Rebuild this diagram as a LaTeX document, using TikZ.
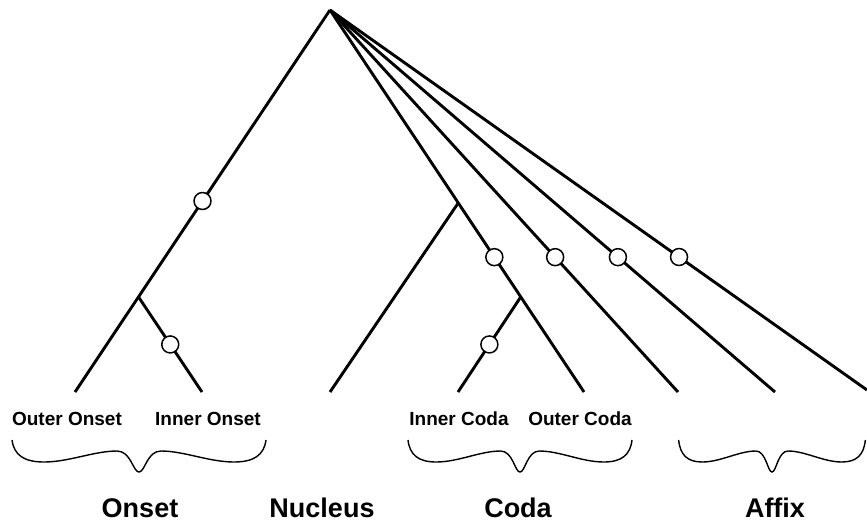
\documentclass[tikz,border=0pt]{standalone}
\usepackage{fontspec}
\setmainfont{Liberation Sans}
\usetikzlibrary{calc}
\tikzset{
  branch/.style={line width=2.9pt, line join=round},
  knot/.style={circle, draw, fill=white, line width=1.5pt, minimum size=17pt, inner sep=0pt},
  small/.style={font=\fontsize{19}{21}\selectfont\bfseries, inner sep=0pt, anchor=base},
  big/.style={font=\fontsize{27}{30}\selectfont\bfseries, inner sep=0pt, anchor=base},
  curly/.pic={
    \draw[line width=1.4pt]
      (-127,0) .. controls (-125,15) and (-115,22) .. (-95,22)
      .. controls (-70,22) and (-45,11) .. (-22,11)
      .. controls (-8,11) and (-6,32) .. (0,32)
      .. controls (6,32) and (8,11) .. (22,11)
      .. controls (45,11) and (70,22) .. (95,22)
      .. controls (115,22) and (125,15) .. (127,0);
  }
}
\begin{document}
\begin{tikzpicture}[x=1pt, y=-1pt]
\useasboundingbox (0,0) rectangle (867,523);
% tree points
\coordinate (root) at (330,10);
\coordinate (oo) at (75,392);
\coordinate (io) at (202,392);
\coordinate (nu) at (330,392);
\coordinate (ic) at (458,392);
\coordinate (oc) at (584,392);
\coordinate (a1) at (678,392);
\coordinate (a2) at (775,392);
\coordinate (a3) at (867,390);
\coordinate (b1) at ($(root)!0.751!(oo)$);
\coordinate (b2) at ($(root)!0.505!(oc)$);
\coordinate (b3) at ($(root)!0.751!(oc)$);
% branches
\draw[branch] (root) -- node[knot, pos=0.5] (k1) {} (oo);
\draw[branch] (b1) -- node[knot, pos=0.5] (k2) {} (io);
\draw[branch] (b2) -- (nu);
\draw[branch] (root) -- node[knot, pos=0.647] (k3) {} (oc);
\draw[branch] (b3) -- node[knot, pos=0.5] (k4) {} (ic);
\draw[branch] (root) -- node[knot, pos=0.647] (k5) {} (a1);
\draw[branch] (root) -- node[knot, pos=0.647] (k6) {} (a2);
\draw[branch] (root) -- node[knot, pos=0.65] (k7) {} (a3);
% small labels
\node[small] (lOO) at (67,425) {Outer Onset};
\node[small] (lIO) at (208,425) {Inner Onset};
\node[small] (lIC) at (459,425) {Inner Coda};
\node[small] (lOC) at (580,425) {Outer Coda};
% braces
\pic at (139,440) {curly};
\pic[xscale=0.882] at (520,440) {curly};
\pic[xscale=0.735] at (772,440) {curly};
% big labels
\node[big] (gOn) at (140,517) {Onset};
\node[big] (gNu) at (322,517) {Nucleus};
\node[big] (gCo) at (518,517) {Coda};
\node[big] (gAf) at (775,517) {Affix};
\end{tikzpicture}
\end{document}
